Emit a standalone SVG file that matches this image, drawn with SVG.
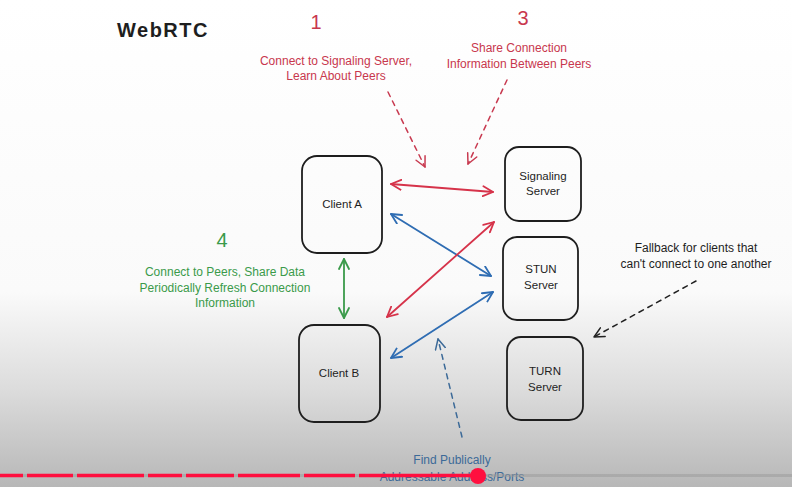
<svg xmlns="http://www.w3.org/2000/svg" width="792" height="487" viewBox="0 0 792 487">
<defs>
<linearGradient id="bg" x1="0" y1="0" x2="0" y2="1">
<stop offset="0" stop-color="#ffffff"/>
<stop offset="0.6" stop-color="#fafafa"/>
<stop offset="0.8" stop-color="#dcdcdc"/>
<stop offset="1" stop-color="#b7b7b7"/>
</linearGradient>
<marker id="hr" viewBox="0 0 12 12" refX="11" refY="6" markerWidth="12" markerHeight="12" markerUnits="userSpaceOnUse" orient="auto-start-reverse"><path d="M1,1 L11,6 L1,11" fill="none" stroke="#d6334a" stroke-width="1.8" stroke-linecap="round" stroke-linejoin="round"/></marker>
<marker id="hb" viewBox="0 0 12 12" refX="11" refY="6" markerWidth="12" markerHeight="12" markerUnits="userSpaceOnUse" orient="auto-start-reverse"><path d="M1,1 L11,6 L1,11" fill="none" stroke="#2f6db3" stroke-width="1.8" stroke-linecap="round" stroke-linejoin="round"/></marker>
<marker id="hg" viewBox="0 0 12 12" refX="11" refY="6" markerWidth="12" markerHeight="12" markerUnits="userSpaceOnUse" orient="auto-start-reverse"><path d="M1,1 L11,6 L1,11" fill="none" stroke="#3a9a4a" stroke-width="1.8" stroke-linecap="round" stroke-linejoin="round"/></marker>
<marker id="hrd" viewBox="0 0 12 12" refX="11" refY="6" markerWidth="12" markerHeight="12" markerUnits="userSpaceOnUse" orient="auto"><path d="M1,1 L11,6 L1,11" fill="none" stroke="#c83a50" stroke-width="1.5" stroke-linecap="round" stroke-linejoin="round"/></marker>
<marker id="hbd" viewBox="0 0 12 12" refX="11" refY="6" markerWidth="12" markerHeight="12" markerUnits="userSpaceOnUse" orient="auto"><path d="M1,1 L11,6 L1,11" fill="none" stroke="#3c6a98" stroke-width="1.5" stroke-linecap="round" stroke-linejoin="round"/></marker>
<marker id="hkd" viewBox="0 0 12 12" refX="11" refY="6" markerWidth="12" markerHeight="12" markerUnits="userSpaceOnUse" orient="auto"><path d="M1,1 L11,6 L1,11" fill="none" stroke="#222" stroke-width="1.5" stroke-linecap="round" stroke-linejoin="round"/></marker>
</defs>
<style>
.box{fill:none;stroke:#1e1e1e;stroke-width:1.8}
.lbl{font-family:"Liberation Sans",Arial,sans-serif;font-size:11.5px;fill:#1e1e1e;text-anchor:middle}
.t{font-family:"Liberation Sans",Arial,sans-serif;font-size:12px;text-anchor:middle}
.num{font-family:"Liberation Sans",Arial,sans-serif;font-size:20px;text-anchor:middle}
.red{fill:#c8374d}.grn{fill:#3a9a4a}.blu{fill:#3c6a98}.blk{fill:#1e1e1e}
.c{fill:none;stroke-width:1.8;stroke-linecap:round}
.d{fill:none;stroke-width:1.5;stroke-dasharray:5 5;stroke-linecap:round}
</style>
<rect x="0" y="0" width="792" height="487" fill="url(#bg)"/>
<text x="163" y="37" font-family="Liberation Sans, Arial, sans-serif" font-size="20" font-weight="bold" letter-spacing="1.5" text-anchor="middle" fill="#1e1e1e">WebRTC</text>
<g id="client-a"><rect class="box" x="302" y="156" width="80" height="97" rx="15"/><text class="lbl" x="342" y="208">Client A</text></g>
<g id="client-b"><rect class="box" x="299" y="325" width="81" height="97" rx="15"/><text class="lbl" x="339" y="377">Client B</text></g>
<g id="signaling-server"><rect class="box" x="505" y="147" width="76" height="74" rx="14"/><text class="lbl" x="543" y="180">Signaling</text><text class="lbl" x="543" y="195">Server</text></g>
<g id="stun-server"><rect class="box" x="503" y="237" width="75" height="83" rx="14"/><text class="lbl" x="541" y="273">STUN</text><text class="lbl" x="541" y="289">Server</text></g>
<g id="turn-server"><rect class="box" x="507" y="337" width="76" height="83" rx="14"/><text class="lbl" x="545" y="375">TURN</text><text class="lbl" x="545" y="391">Server</text></g>
<g id="label-1"><text class="num red" x="316" y="29">1</text><text class="t red" x="336" y="65">Connect to Signaling Server,</text><text class="t red" x="336" y="80">Learn About Peers</text></g>
<g id="label-3"><text class="num red" x="523" y="25">3</text><text class="t red" x="519" y="52">Share Connection</text><text class="t red" x="519" y="68">Information Between Peers</text></g>
<g id="label-4"><text class="num grn" x="222" y="247">4</text><text class="t grn" x="225" y="276">Connect to Peers, Share Data</text><text class="t grn" x="225" y="292">Periodically Refresh Connection</text><text class="t grn" x="225" y="307">Information</text></g>
<g id="label-fallback"><text class="t blk" x="696" y="252">Fallback for clients that</text><text class="t blk" x="696" y="268">can't connect to one another</text></g>
<g id="label-find"><text class="t blu" x="452" y="464">Find Publically</text><text class="t blu" x="452" y="481">Addressable Address/Ports</text></g>
<g id="connectors">
<line class="c" stroke="#d6334a" x1="391" y1="184" x2="493" y2="192" marker-start="url(#hr)" marker-end="url(#hr)"/>
<line class="c" stroke="#2f6db3" x1="391" y1="214" x2="491" y2="276" marker-start="url(#hb)" marker-end="url(#hb)"/>
<line class="c" stroke="#d6334a" x1="387" y1="317" x2="494" y2="222" marker-start="url(#hr)" marker-end="url(#hr)"/>
<line class="c" stroke="#2f6db3" x1="391" y1="358" x2="493" y2="292" marker-start="url(#hb)" marker-end="url(#hb)"/>
<line class="c" stroke="#3a9a4a" x1="344" y1="259" x2="344" y2="318" marker-start="url(#hg)" marker-end="url(#hg)"/>
<line class="d" stroke="#c83a50" x1="388" y1="92" x2="425" y2="167" marker-end="url(#hrd)"/>
<line class="d" stroke="#c83a50" x1="507" y1="80" x2="468" y2="164" marker-end="url(#hrd)"/>
<line class="d" stroke="#222" x1="696" y1="281" x2="594" y2="337" marker-end="url(#hkd)"/>
<line class="d" stroke="#3c6a98" x1="462" y1="437" x2="438" y2="339" marker-end="url(#hbd)"/>
</g>
<g id="progress-bar">
<rect x="0" y="474" width="792" height="3" fill="#9a9a9a" opacity="0.5"/>
<path d="M0,475.5 H23 M27,475.5 H73 M77,475.5 H144 M148,475.5 H182 M186,475.5 H234 M238,475.5 H300 M304,475.5 H355 M359,475.5 H478" stroke="#ff0f3f" stroke-width="3.5" fill="none"/>
<circle cx="478" cy="476" r="8" fill="#ff0f3f"/>
</g>
</svg>
